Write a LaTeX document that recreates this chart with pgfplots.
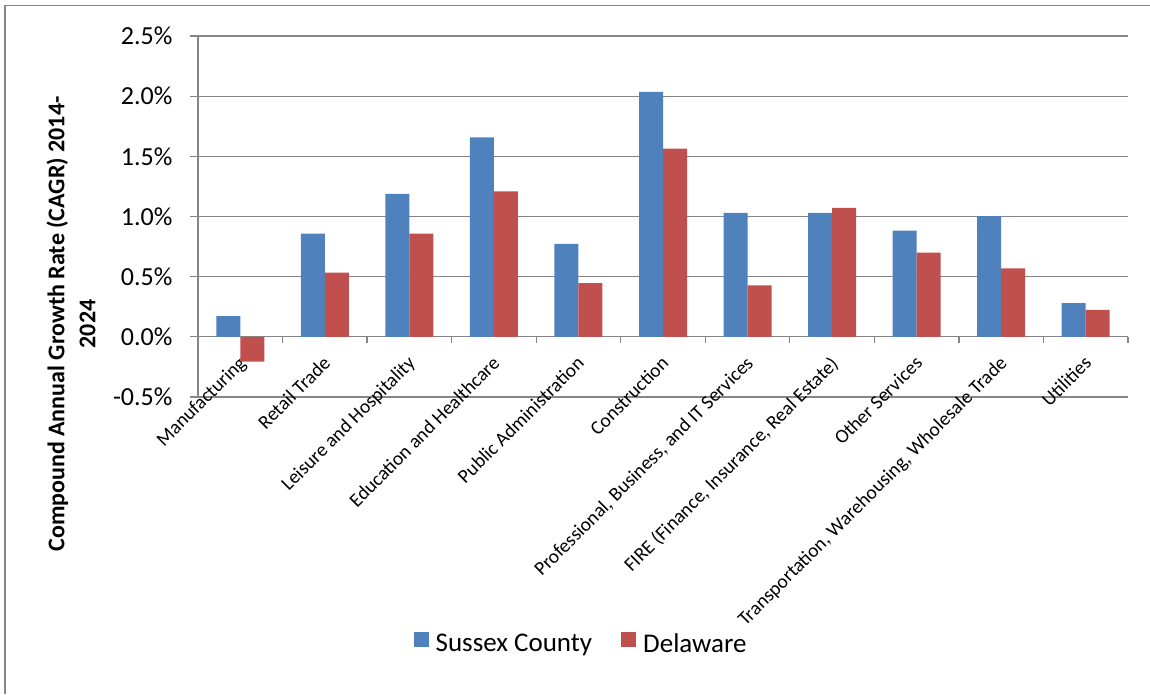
\documentclass[border=0pt]{standalone}
\usepackage{pgfplots}
\pgfplotsset{compat=1.18}
\usepackage{fontspec}
\setmainfont{Carlito}
\definecolor{sblue}{HTML}{4F81BD}
\definecolor{dred}{HTML}{C0504D}
\definecolor{gridgray}{HTML}{868686}

\pgfplotstableread{
x sussex delaware
0 0.172 -0.206
1 0.858 0.533
2 1.189 0.858
3 1.658 1.208
4 0.772 0.447
5 2.036 1.564
6 1.031 0.428
7 1.031 1.072
8 0.883 0.700
9 1.003 0.569
10 0.281 0.225
}\datatable

\begin{document}
\begin{tikzpicture}
\useasboundingbox (-198pt,-297pt) rectangle (952pt,397pt);
\draw[gridgray, line width=1.2pt] (-193pt,-297pt) -- (-193pt,391.5pt) -- (952pt,391.5pt);
\begin{axis}[
  at={(0pt,0pt)}, anchor=south west,
  scale only axis, width=930pt, height=361pt,
  xmin=-0.5, xmax=10.5, ymin=-0.5, ymax=2.5,
  axis y line*=left, axis x line*=middle,
  axis line style={gridgray, line width=1.2pt},
  ybar=0pt, bar width=24pt,
  ymajorgrids, grid style={gridgray, line width=1.2pt},
  ytick={-0.5,0,0.5,1,1.5,2,2.5},
  yticklabels={-0.5\%,0.0\%,0.5\%,1.0\%,1.5\%,2.0\%,2.5\%},
  yticklabel style={font=\fontsize{26}{26}\selectfont, xshift=-14pt},
  xtick={0,...,10},
  xticklabels={Manufacturing,Retail Trade,Leisure and Hospitality,Education and Healthcare,Public Administration,Construction,{Professional, Business, and IT Services},{FIRE (Finance, Insurance, Real Estate)},Other Services,{Transportation, Warehousing, Wholesale Trade},Utilities},
  xticklabel style={rotate=45, anchor=north east, font=\fontsize{19.5}{19.5}\selectfont, inner sep=0pt, xshift=-9pt, yshift=-5pt},
  minor xtick={-0.5,0.5,...,10.5},
  tick align=outside,
  major tick length=8pt, minor tick length=6pt,
  major x tick style={draw=none},
  minor x tick style={gridgray, line width=1.2pt},
  ytick style={gridgray, line width=1.2pt},
  legend style={at={(0.412,-0.684)}, anchor=center, draw=none, fill=none,
    font=\fontsize{27}{27}\selectfont,
    /tikz/every odd column/.append style={column sep=5pt},
    /tikz/every even column/.append style={column sep=27pt}},
  legend columns=2,
]
\addplot[fill=sblue, draw=none, legend image code/.code={\fill[sblue] (0pt,-3pt) rectangle (15pt,12pt);}] table[x=x, y=sussex] {\datatable};
\addplot[fill=dred, draw=none, legend image code/.code={\fill[dred] (0pt,-3pt) rectangle (15pt,12pt);}] table[x=x, y=delaware] {\datatable};
\legend{Sussex County, Delaware}
\end{axis}
\node[rotate=90, align=center, font=\bfseries\fontsize{24}{31}\selectfont] at (-127pt,73pt) {Compound Annual Growth Rate (CAGR) 2014-\\2024};
\end{tikzpicture}
\end{document}
